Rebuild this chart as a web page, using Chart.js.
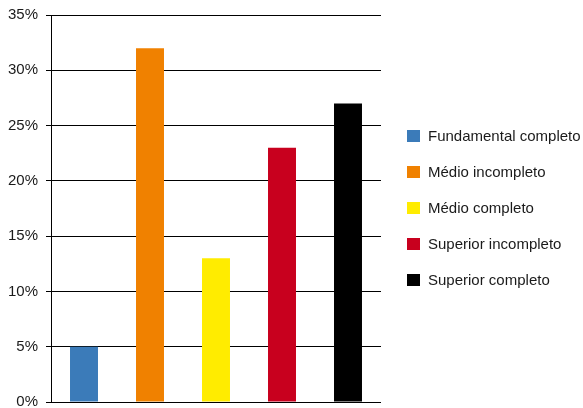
<!DOCTYPE html>
<html>
<head>
<meta charset="utf-8">
<script src="https://cdn.jsdelivr.net/npm/chart.js@4/dist/chart.umd.min.js"></script>
<style>
  html, body { margin: 0; padding: 0; background: #fff; }
  #wrap { width: 583px; height: 408px; position: relative; }
</style>
</head>
<body>
<div id="wrap"><canvas id="escolaridadeChart"></canvas></div>
<script>
const categories = ['Fundamental completo', 'Médio incompleto', 'Médio completo', 'Superior incompleto', 'Superior completo'];
const values = [5, 32, 13, 23, 27];
const barColors = ['#3b7bb9', '#f08100', '#ffec00', '#c8001e', '#000000'];
const yTicks = [0, 5, 10, 15, 20, 25, 30, 35];

const FONT = '"Liberation Sans", Arial, sans-serif';

// legend drawn on the right, one square per category
const sideLegend = {
    id: 'sideLegend',
    afterDraw(chart) {
        const ctx = chart.ctx;
        const area = chart.chartArea;
        const step = 36;
        const mid = (area.top + area.bottom) / 2 - 1;
        const first = mid - step * (categories.length - 1) / 2;
        ctx.save();
        ctx.font = '15px ' + FONT;
        ctx.textBaseline = 'middle';
        ctx.textAlign = 'left';
        categories.forEach((label, i) => {
            const cy = Math.round(first + i * step);
            ctx.fillStyle = barColors[i];
            ctx.fillRect(407, cy - 6, 13, 12);
            ctx.fillStyle = '#1a1a1a';
            ctx.fillText(label, 428, cy + 1);
        });
        ctx.restore();
    }
};

new Chart(document.getElementById('escolaridadeChart'), {
    type: 'bar',
    data: {
        labels: categories,
        datasets: [{
            data: values,
            backgroundColor: barColors,
            borderWidth: 0,
            categoryPercentage: 1,
            barPercentage: 0.424,
        }],
    },
    options: {
        responsive: true,
        maintainAspectRatio: false,
        animation: false,
        layout: { padding: { top: 15, right: 202, bottom: 6, left: 0 } },
        plugins: {
            legend: { display: false },
            tooltip: { enabled: false },
        },
        scales: {
            x: { display: false },
            y: {
                min: 0,
                max: 35,
                afterFit(scale) {
                    scale.width = 51;
                    scale.paddingTop = 0;
                    scale.paddingBottom = 0;
                },
                afterBuildTicks(scale) { scale.ticks = yTicks.map((v) => ({ value: v })); },
                grid: { color: '#000', lineWidth: 1, tickLength: 5 },
                border: { color: '#000', width: 1 },
                ticks: {
                    padding: 8,
                    color: '#1a1a1a',
                    font: { family: FONT, size: 15 },
                    callback: (v) => v + '%',
                },
            },
        },
    },
    plugins: [sideLegend],
});
</script>
</body>
</html>
